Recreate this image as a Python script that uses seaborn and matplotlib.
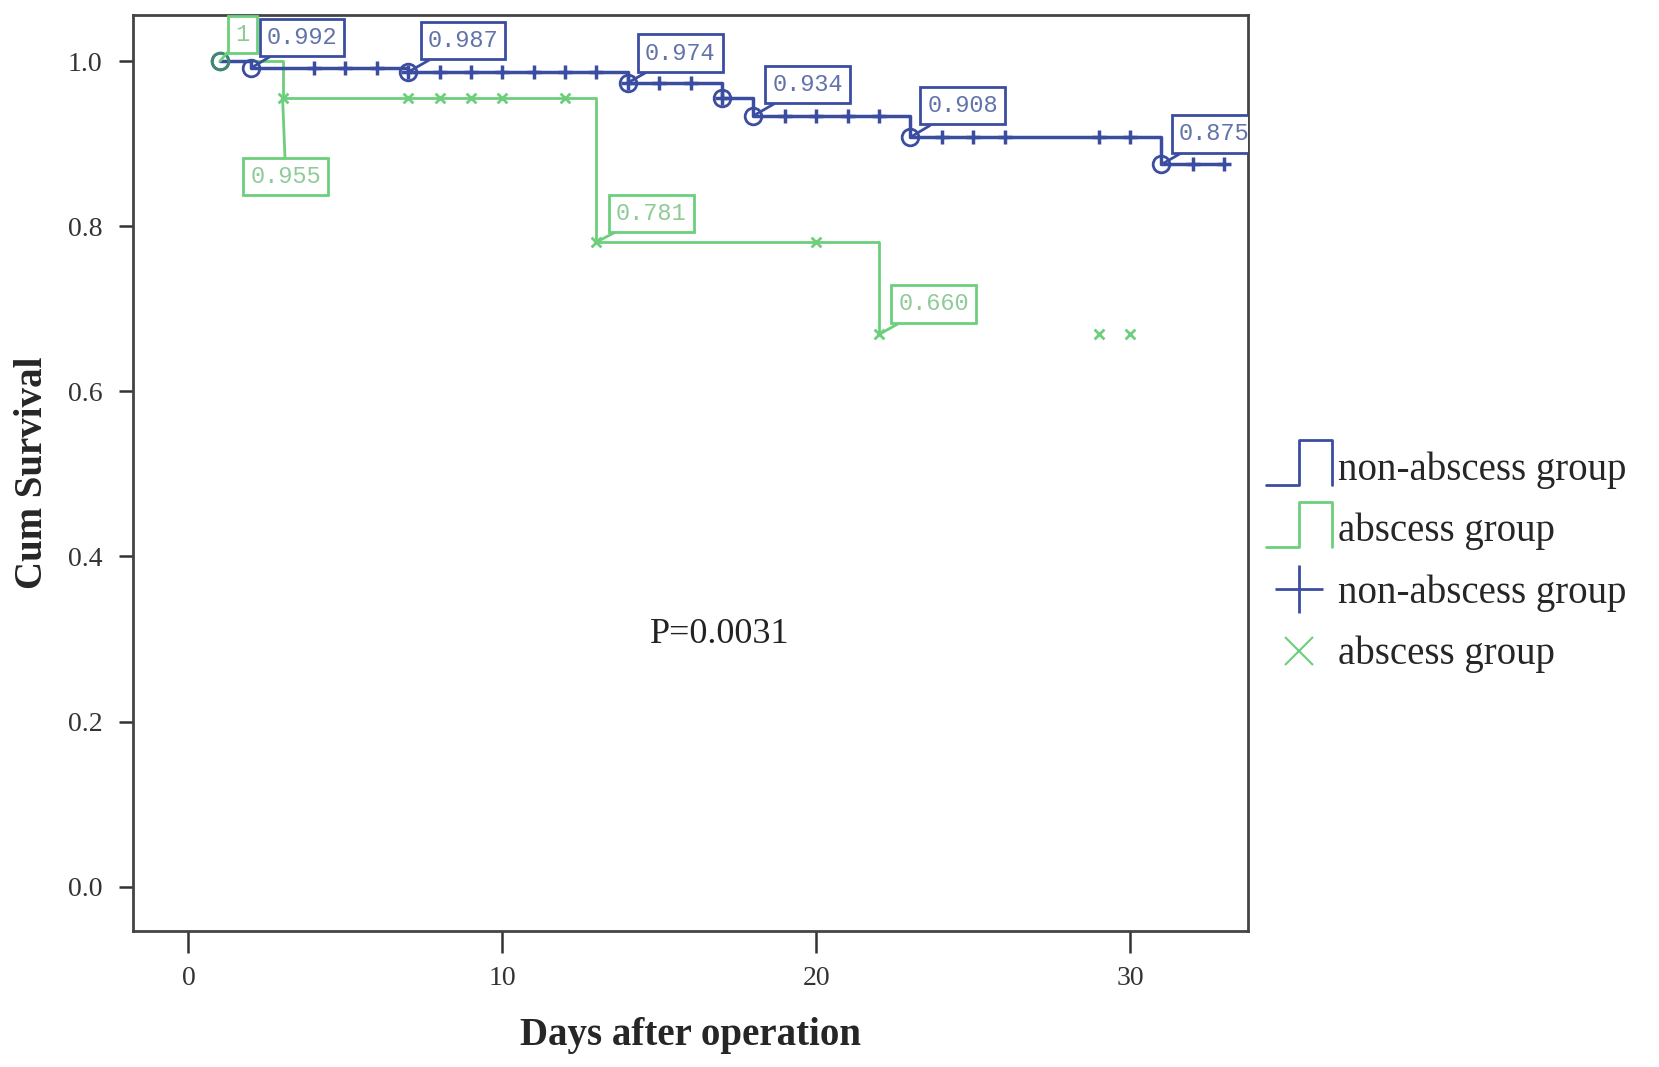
"""
Kaplan-Meier style survival curves, abscess vs non-abscess group
"""

import numpy as np
import seaborn as sns
import matplotlib.pyplot as plt
from matplotlib.lines import Line2D
from matplotlib.legend_handler import HandlerBase
from matplotlib.ticker import FormatStrFormatter

# step curves (time of change, survival after change)
blue_t = [1, 2, 7, 14, 17, 18, 23, 31, 33]
blue_s = [1.0, 0.992, 0.987, 0.974, 0.955, 0.934, 0.908, 0.875, 0.875]
green_t = [1, 3, 13, 22]
green_s = [1.0, 0.955, 0.781, 0.669]

# censored marks
blue_cens = [4, 5, 6, 7, 8, 9, 10, 11, 12, 13, 14, 15, 16, 17,
             19, 20, 21, 22, 24, 25, 26, 29, 30, 32, 33]
green_cens = [3, 7, 8, 9, 10, 12, 13, 20, 22, 29, 30]

# labelled points
blue_circ = [1, 2, 7, 14, 17, 18, 23, 31]
blue_lab_t = [2, 7, 14, 18, 23, 31]
blue_lab_txt = ["0.992", "0.987", "0.974", "0.934", "0.908", "0.875"]
blue_lab_pos = [(3.62, 1.029), (8.75, 1.025), (15.67, 1.010),
                (19.73, 0.972), (24.67, 0.946), (32.68, 0.912)]
green_circ = [1]
green_lab_t = [1, 3, 13, 22]
green_lab_txt = ["1", "0.955", "0.781", "0.660"]
green_lab_pos = [(1.72, 1.032), (3.10, 0.860), (14.75, 0.816), (23.74, 0.706)]

BLUE = "#3b4da0"
GREEN = "#6dcf7c"


def surv_at(times, surv, t):
    i = np.searchsorted(times, t, side="right") - 1
    return surv[max(i, 0)]


class StepHandler(HandlerBase):
    def create_artists(self, legend, orig_handle, xdescent, ydescent,
                       width, height, fontsize, trans):
        x0, y0 = -xdescent, -ydescent
        xs = [x0, x0 + 0.5 * width, x0 + 0.5 * width, x0 + width, x0 + width]
        lo, hi = y0 - 0.2 * height, y0 + 1.45 * height
        ys = [lo, lo, hi, hi, lo]
        return [Line2D(xs, ys, color=orig_handle.get_color(),
                       lw=orig_handle.get_linewidth(), transform=trans)]


def plot():
    sns.set_theme(style="white")
    plt.rcParams["font.family"] = ["Liberation Serif", "DejaVu Serif"]

    fig = plt.figure(figsize=(16.59, 10.67), dpi=100)
    ax = fig.add_axes([0.0802, 0.1275, 0.6721, 0.8585])

    sns.lineplot(x=blue_t, y=blue_s, drawstyle="steps-post", color=BLUE,
                 lw=2.5, ax=ax, zorder=3)
    sns.lineplot(x=green_t, y=green_s, drawstyle="steps-post", color=GREEN,
                 lw=2, ax=ax, zorder=2)

    by = [surv_at(blue_t, blue_s, t) for t in blue_cens]
    gy = [surv_at(green_t, green_s, t) for t in green_cens]
    sns.scatterplot(x=blue_cens, y=by, marker="+", s=110, color=BLUE,
                    linewidth=2.5, ax=ax, zorder=4)
    sns.scatterplot(x=green_cens, y=gy, marker="x", s=50, color=GREEN,
                    linewidth=2, ax=ax, zorder=4)

    bcy = [surv_at(blue_t, blue_s, t) for t in blue_circ]
    gcy = [surv_at(green_t, green_s, t) for t in green_circ]
    ax.plot(blue_circ, bcy, "o", ms=12, mfc="none", mec=BLUE, mew=2, zorder=5)
    ax.plot(green_circ, gcy, "o", ms=12, mfc="none", mec="#3f8a6c", mew=2, zorder=6)

    def label(t, txt, pos, tc, ec, curve_t, curve_s):
        ax.annotate(txt, xy=(t, surv_at(curve_t, curve_s, t)), xytext=pos,
                    textcoords="data", ha="center", va="center",
                    fontsize=17, family="Liberation Mono", color=tc,
                    bbox=dict(boxstyle="square,pad=0.3", fc="white", ec=ec, lw=2),
                    arrowprops=dict(arrowstyle="-", color=ec, lw=2,
                                    shrinkA=0, shrinkB=0),
                    annotation_clip=False, clip_on=True, zorder=7)

    for t, txt, pos in zip(blue_lab_t, blue_lab_txt, blue_lab_pos):
        label(t, txt, pos, "#6272aa", BLUE, blue_t, blue_s)
    for t, txt, pos in zip(green_lab_t, green_lab_txt, green_lab_pos):
        label(t, txt, pos, "#8fcb98", GREEN, green_t, green_s)

    ax.text(16.92, 0.305, "P=0.0031", ha="center", va="center", fontsize=26,
            color="#222222")

    ax.set_xlim(-1.765, 33.76)
    ax.set_ylim(-0.0538, 1.0562)
    ax.set_xticks([0, 10, 20, 30])
    ax.set_yticks([0.0, 0.2, 0.4, 0.6, 0.8, 1.0])
    ax.yaxis.set_major_formatter(FormatStrFormatter("%.1f"))
    ax.tick_params(axis="x", direction="out", length=16, width=1.8,
                   color="#333333", labelsize=20, labelcolor="#333333",
                   pad=9, bottom=True)
    ax.tick_params(axis="y", direction="out", length=10, width=1.8,
                   color="#333333", labelsize=20, labelcolor="#333333",
                   pad=12, left=True)
    for sp in ax.spines.values():
        sp.set_linewidth(2)
        sp.set_color("#444444")

    ax.set_xlabel("Days after operation", fontsize=28, fontweight="bold")
    ax.set_ylabel("Cum Survival", fontsize=28, fontweight="bold")
    ax.xaxis.set_label_coords(0.5, -0.094)
    ax.yaxis.set_label_coords(-0.074, 0.5)

    h1 = Line2D([], [], color=BLUE, lw=2)
    h2 = Line2D([], [], color=GREEN, lw=2)
    h3 = Line2D([], [], color=BLUE, marker="+", ls="none", ms=34, mew=2)
    h4 = Line2D([], [], color=GREEN, marker="x", ls="none", ms=20, mew=1.5)
    fig.legend([h1, h2, h3, h4],
               ["non-abscess group", "abscess group",
                "non-abscess group", "abscess group"],
               handler_map={h1: StepHandler(), h2: StepHandler()},
               loc="center left", bbox_to_anchor=(0.763, 0.473),
               frameon=False, fontsize=28, handlelength=1.7, handleheight=0.7,
               handletextpad=0.15, labelspacing=0.62, borderpad=0,
               borderaxespad=0)

    fig.savefig("out.png", dpi=100)


if __name__ == "__main__":
    plot()
